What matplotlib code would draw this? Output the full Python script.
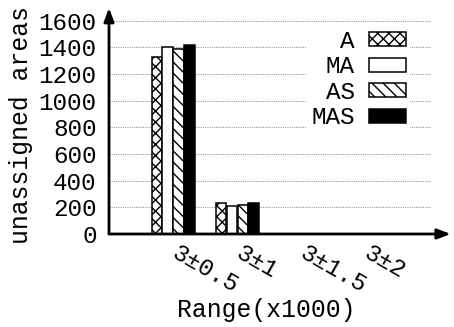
import matplotlib
matplotlib.use("Agg")
import matplotlib.pyplot as plt
from matplotlib.transforms import ScaledTranslation
import numpy as np

categories = ["3±0.5", "3±1", "3±1.5", "3±2"]
series_names = ["A", "MA", "AS", "MAS"]
vals_A = [1330, 235, 0, 0]
vals_MA = [1405, 210, 0, 0]
vals_AS = [1385, 215, 0, 0]
vals_MAS = [1420, 230, 0, 0]
yticks = [0, 200, 400, 600, 800, 1000, 1200, 1400, 1600]

plt.rcParams['font.family'] = ['Liberation Mono', 'DejaVu Sans Mono']
plt.rcParams['hatch.linewidth'] = 1.0
FS = 17.5

fig = plt.figure(figsize=(4.54, 3.27), dpi=100)
W, H = 454, 327
x0, x1, y0, y1 = 109, 430, 234, 20.7
ax = fig.add_axes([x0 / W, 1 - y0 / H, (x1 - x0) / W, (y0 - y1) / H])

x = np.arange(len(categories))
bw = 0.165
styles = [
    dict(facecolor='white', hatch='xxx'),
    dict(facecolor='white'),
    dict(facecolor='white', hatch='\\\\\\'),
    dict(facecolor='black'),
]
allvals = [vals_A, vals_MA, vals_AS, vals_MAS]
for i, (name, v, st) in enumerate(zip(series_names, allvals, styles)):
    ax.bar(x + (i - 1.5) * 0.17, v, bw, label=name, edgecolor='black',
           linewidth=1.1, zorder=3, **st)

ax.set_xlim(-1, 4)
ax.set_ylim(0, 1600)
ax.set_yticks(yticks)
ax.set_yticklabels([str(t) for t in yticks], fontsize=FS)
ax.set_xticks(x)
ax.set_xticklabels(categories, fontsize=FS, rotation=-30, ha='left', va='top',
                   rotation_mode='anchor')
ax.tick_params(axis='both', length=0)
ax.tick_params(axis='y', pad=9)
ax.tick_params(axis='x', pad=5)
off = ScaledTranslation(6 / 100, 0, fig.dpi_scale_trans)
for lbl in ax.get_xticklabels():
    lbl.set_transform(lbl.get_transform() + off)

for t in yticks[1:]:
    ax.axhline(t, color='#999999', lw=0.8, ls=(0, (1, 1)), zorder=1, clip_on=False)

for s in ax.spines.values():
    s.set_visible(False)
ax.annotate('', xy=(1.065, 0), xytext=(0, 0), xycoords='axes fraction',
            arrowprops=dict(arrowstyle='-|>,head_length=0.8,head_width=0.3',
                            lw=2, color='black', shrinkA=0, shrinkB=0), zorder=5)
ax.annotate('', xy=(0, 1.06), xytext=(0, 0), xycoords='axes fraction',
            arrowprops=dict(arrowstyle='-|>,head_length=0.8,head_width=0.3',
                            lw=2, color='black', shrinkA=0, shrinkB=0), zorder=5)

ax.set_ylabel('unassigned areas', fontsize=17.8)
ax.yaxis.set_label_coords(-0.237, 0.51)
ax.set_xlabel('Range(x1000)', fontsize=17.8, va='top')
ax.xaxis.set_label_coords(0.49, -0.30)

leg = ax.legend(loc='upper right', bbox_to_anchor=(0.977, 1.036), fontsize=FS,
                markerfirst=False, frameon=True, fancybox=False, framealpha=1,
                edgecolor='none', handlelength=1.5, handleheight=0.5,
                labelspacing=0.1, borderpad=0.2, handletextpad=0.6)
leg.set_zorder(6)

fig.savefig('out.png', dpi=100)
